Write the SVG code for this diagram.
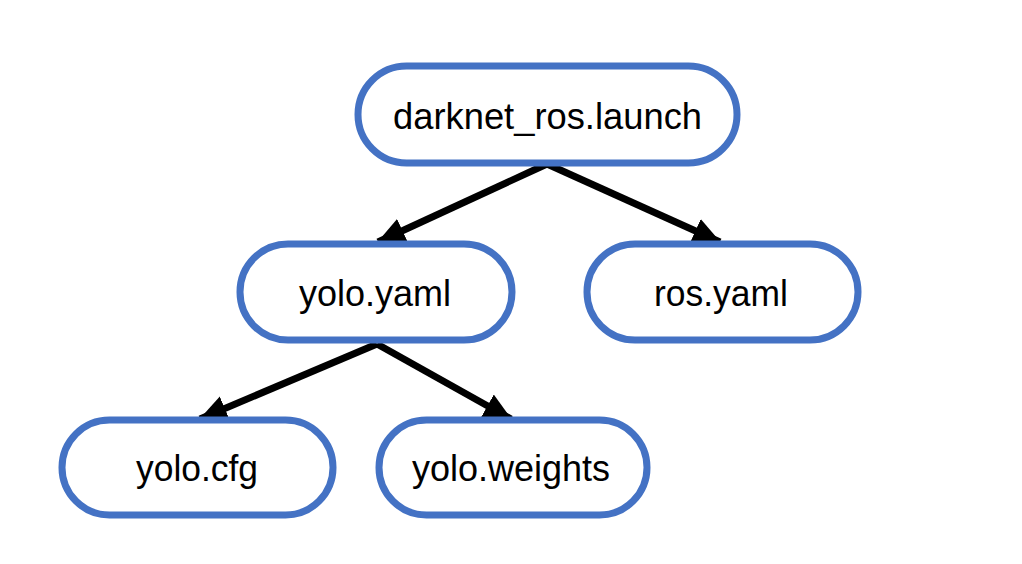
<svg xmlns="http://www.w3.org/2000/svg" width="1022" height="564" viewBox="0 0 1022 564">
  <defs>
    <marker id="arrow" markerUnits="userSpaceOnUse" markerWidth="30" markerHeight="30" viewBox="0 0 30 30" refX="27" refY="15" orient="auto">
      <path d="M0,2 L28,15 L0,28 Z" fill="#000"/>
    </marker>
    <style>
      .node rect { fill: #fff; stroke: #4472C4; stroke-width: 7; }
      .node text { font-family: "Liberation Sans", Arial, sans-serif; font-size: 37px; fill: #000; text-anchor: middle; }
      .edge { stroke: #000; stroke-width: 7; fill: none; marker-end: url(#arrow); }
    </style>
  </defs>
  <rect width="1022" height="564" fill="#fff"/>
  <g id="connectors">
    <line class="edge" x1="547" y1="164" x2="378" y2="242"/>
    <line class="edge" x1="547" y1="164" x2="720" y2="242"/>
    <line class="edge" x1="377" y1="344" x2="200" y2="419"/>
    <line class="edge" x1="377" y1="344" x2="511" y2="419"/>
  </g>
  <g id="node-darknet" class="node">
    <rect x="358" y="66" width="379" height="97" rx="48.5"/>
    <text x="547.5" y="129" textLength="309" lengthAdjust="spacingAndGlyphs">darknet_ros.launch</text>
  </g>
  <g id="node-yolo-yaml" class="node">
    <rect x="240" y="244" width="272" height="96" rx="48"/>
    <text x="375" y="306" textLength="152" lengthAdjust="spacingAndGlyphs">yolo.yaml</text>
  </g>
  <g id="node-ros-yaml" class="node">
    <rect x="587" y="244" width="271" height="96" rx="48"/>
    <text x="721" y="306" textLength="134" lengthAdjust="spacingAndGlyphs">ros.yaml</text>
  </g>
  <g id="node-yolo-cfg" class="node">
    <rect x="62" y="420" width="271" height="95" rx="47.5"/>
    <text x="197" y="481" textLength="122" lengthAdjust="spacingAndGlyphs">yolo.cfg</text>
  </g>
  <g id="node-yolo-weights" class="node">
    <rect x="379" y="420" width="268" height="95" rx="47.5"/>
    <text x="511" y="481" textLength="198" lengthAdjust="spacingAndGlyphs">yolo.weights</text>
  </g>
</svg>
